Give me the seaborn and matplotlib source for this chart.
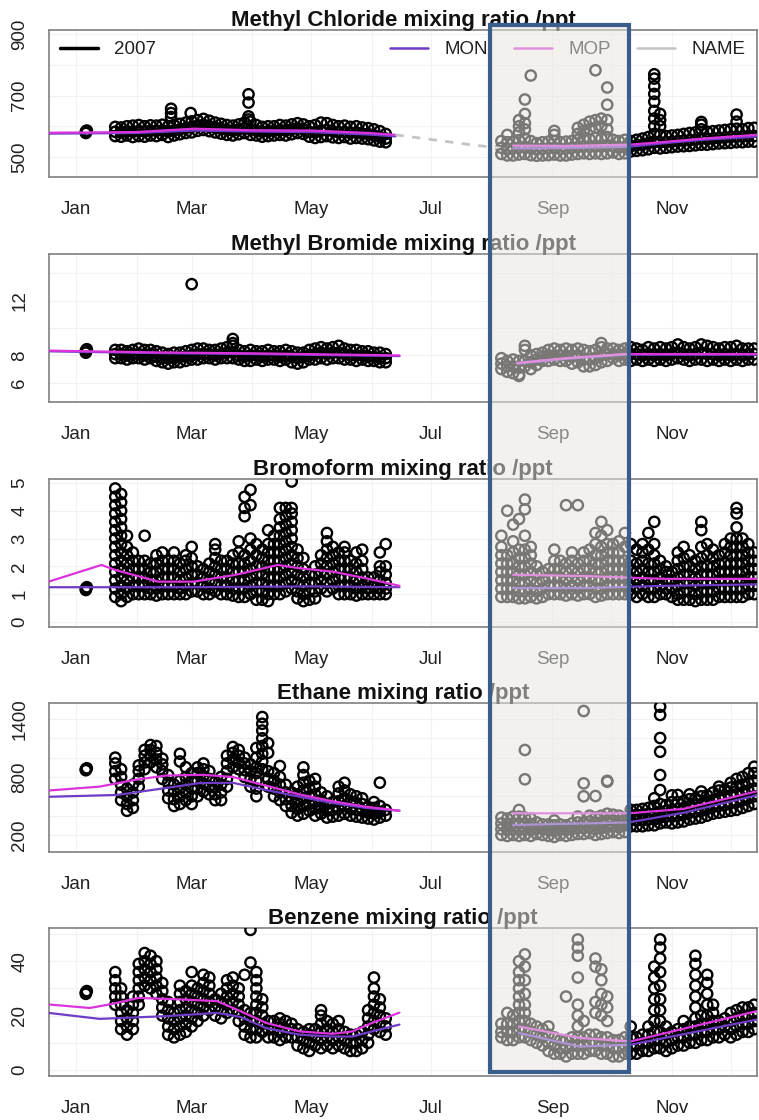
import matplotlib
matplotlib.use("Agg")
import numpy as np
import pandas as pd
import matplotlib.pyplot as plt
import matplotlib.dates as mdates
import matplotlib.transforms as mtransforms
from matplotlib.patches import Rectangle
from matplotlib.lines import Line2D
import seaborn as sns

YEAR0 = pd.Timestamp("2007-01-01")

# Start days (day of year, 0 = 1 Jan) of the 3-day measurement windows
win_spring = list(range(20, 159, 3))    # 21 Jan - 8 Jun
win_autumn = list(range(217, 347, 3))   # 6 Aug - 13 Dec

# ---------------- Methyl chloride (ppt) ----------------
ch3cl_spring = [
    [568, 582, 598], [566, 580, 596], [570, 584, 600], [565, 582, 602], [568, 585, 604],
    [566, 583, 600], [570, 586, 603], [568, 585, 602], [572, 587, 605], [565, 583, 600],
    [570, 586, 604], [574, 590, 608], [578, 594, 612], [580, 598, 616], [585, 602, 620],
    [588, 605, 624], [584, 600, 618], [580, 596, 612], [576, 592, 608], [572, 588, 604],
    [570, 586, 602], [574, 590, 606], [578, 594, 612], [572, 590, 615], [570, 586, 604],
    [566, 582, 598], [568, 584, 600], [570, 585, 600], [572, 588, 604], [570, 586, 602],
    [574, 590, 606], [578, 594, 610], [575, 590, 606], [566, 582, 600], [562, 580, 604],
    [565, 585, 612], [568, 588, 610], [564, 584, 604], [562, 580, 600], [565, 582, 602],
    [560, 578, 598], [562, 580, 600], [560, 576, 596], [558, 575, 594], [554, 570, 590],
    [550, 565, 584], [548, 560, 575],
]
ch3cl_autumn = [
    [510, 530, 552], [505, 525, 548, 572], [505, 528, 550], [508, 530, 555, 580, 600, 620],
    [510, 532, 560, 590, 610, 640, 687], [506, 528, 552, 765], [504, 525, 545], [505, 527, 548],
    [506, 528, 550], [508, 530, 552, 572, 585], [505, 526, 548], [505, 527, 550],
    [508, 530, 552], [510, 532, 556, 575, 595], [512, 535, 560, 585, 605], [510, 533, 558, 590, 615],
    [512, 536, 562, 595, 620, 782], [510, 534, 560, 600, 625], [512, 538, 565, 590, 620, 670, 726],
    [515, 535, 556], [510, 530, 552], [512, 533, 556], [518, 535, 552], [520, 538, 556],
    [522, 540, 560], [525, 545, 565], [530, 550, 575, 600, 625, 650, 680, 705, 730, 755, 769],
    [528, 548, 572, 600, 620, 640], [530, 548, 568], [532, 550, 570], [534, 552, 572],
    [535, 553, 575], [536, 555, 578], [538, 556, 580], [540, 560, 590, 605, 614],
    [540, 558, 582], [542, 560, 584], [544, 562, 586], [545, 563, 588], [546, 565, 590],
    [548, 566, 592, 615, 638], [548, 566, 590], [550, 568, 594], [550, 568, 595],
]
ch3cl_extra = [(5, 578), (5, 583), (5.5, 586), (48.5, 657), (48.5, 643), (48.5, 630),
               (58.5, 643), (88, 704), (88, 677), (88, 632), (88, 622)]
ch3cl_mop = ([-14, 30, 60, 90, 120, 150, 163], [579, 581, 592, 587, 586, 578, 572])
ch3cl_mon = ([-14, 30, 60, 90, 120, 150, 163], [576, 578, 586, 583, 581, 573, 567])
ch3cl_mop_aut = ([223, 250, 282, 300, 320, 347], [537, 536, 540, 549, 560, 572])
ch3cl_mon_aut = ([223, 250, 282, 300, 320, 347], [528, 529, 533, 545, 556, 566])
ch3cl_name_gap = ([163, 180, 200, 215], [572, 558, 541, 530])

# ---------------- Methyl bromide (ppt) ----------------
ch3br_spring = [
    [7.8, 8.1, 8.4], [7.8, 8.1, 8.4], [7.7, 8.0, 8.3], [7.8, 8.1, 8.4], [7.8, 8.1, 8.5],
    [7.7, 8.0, 8.4], [7.8, 8.1, 8.4], [7.6, 7.9, 8.3], [7.5, 7.8, 8.2], [7.4, 7.8, 8.1],
    [7.5, 7.8, 8.2], [7.5, 7.9, 8.2], [7.6, 7.9, 8.3], [7.7, 8.0, 8.4], [7.7, 8.1, 8.5],
    [7.8, 8.1, 8.5], [7.8, 8.1, 8.4], [7.7, 8.0, 8.4], [7.8, 8.1, 8.5], [7.8, 8.2, 8.6],
    [7.8, 8.2, 8.7, 8.9, 9.2], [7.7, 8.0, 8.4], [7.6, 7.9, 8.3], [7.6, 8.0, 8.4], [7.7, 8.0, 8.3],
    [7.6, 7.9, 8.3], [7.7, 8.0, 8.4], [7.7, 8.0, 8.3], [7.6, 7.9, 8.3], [7.7, 8.0, 8.4],
    [7.5, 7.9, 8.3], [7.4, 7.8, 8.2], [7.5, 7.9, 8.2], [7.7, 8.0, 8.4], [7.7, 8.1, 8.5],
    [7.8, 8.2, 8.6], [7.7, 8.1, 8.5], [7.8, 8.2, 8.6], [7.8, 8.2, 8.7], [7.7, 8.1, 8.5],
    [7.7, 8.0, 8.4], [7.6, 8.0, 8.4], [7.7, 8.0, 8.3], [7.6, 7.9, 8.3], [7.6, 7.9, 8.2],
    [7.5, 7.8, 8.2], [7.5, 7.8, 8.1],
]
ch3br_autumn = [
    [7.0, 7.4, 7.8], [6.8, 7.2, 7.6], [6.7, 7.2, 7.7], [6.5, 6.6, 7.1, 7.6], [7.2, 7.6, 8.4, 8.7],
    [7.0, 7.5, 8.0], [7.3, 7.7, 8.1], [7.6, 7.9, 8.2], [7.6, 8.0, 8.4], [7.7, 8.0, 8.5],
    [7.6, 8.0, 8.4], [7.6, 8.0, 8.5], [7.4, 7.9, 8.4], [7.5, 8.0, 8.5], [7.2, 7.7, 8.4],
    [7.2, 7.7, 8.3], [7.3, 7.8, 8.4], [7.5, 8.0, 8.6, 8.9], [7.6, 8.1, 8.5], [7.8, 8.1, 8.5],
    [7.6, 8.0, 8.4], [7.7, 8.1, 8.5], [7.6, 8.1, 8.6], [7.7, 8.1, 8.5], [7.6, 8.0, 8.4],
    [7.7, 8.1, 8.6], [7.6, 8.0, 8.5], [7.7, 8.1, 8.6], [7.6, 8.0, 8.5], [7.7, 8.1, 8.6],
    [7.8, 8.2, 8.8], [7.7, 8.1, 8.6], [7.6, 8.0, 8.5], [7.7, 8.1, 8.6], [7.7, 8.2, 8.8],
    [7.6, 8.1, 8.7], [7.7, 8.1, 8.6], [7.6, 8.0, 8.5], [7.7, 8.1, 8.6], [7.6, 8.0, 8.6],
    [7.7, 8.1, 8.7], [7.6, 8.0, 8.5], [7.7, 8.1, 8.5], [7.7, 8.1, 8.5],
]
ch3br_extra = [(5, 8.2), (5, 8.35), (5.5, 8.45), (59, 13.2)]
ch3br_mop = ([-14, 40, 90, 140, 165], [8.35, 8.22, 8.15, 8.05, 8.0])
ch3br_mon = ([-14, 40, 90, 140, 165], [8.3, 8.17, 8.1, 8.0, 7.95])
ch3br_mop_aut = ([225, 250, 280, 347], [7.45, 7.8, 8.1, 8.1])
ch3br_mon_aut = ([225, 250, 280, 347], [7.4, 7.75, 8.05, 8.05])

# ---------------- Bromoform (ppt) ----------------
chbr3_spring = [
    [0.9, 1.2, 1.5, 1.8, 2.1, 2.4, 2.7, 3.0, 3.3, 3.6, 3.9, 4.2, 4.5, 4.8],
    [0.75, 1.0, 1.3, 1.6, 1.9, 2.2, 2.5, 2.8, 3.1, 3.4, 3.7, 4.0, 4.3, 4.6],
    [0.9, 1.2, 1.5, 1.8, 2.1, 2.4, 2.7, 3.1], [1.0, 1.3, 1.6, 1.9, 2.2, 2.5],
    [1.0, 1.3, 1.6, 1.9, 2.2], [1.0, 1.3, 1.6, 1.9, 2.2, 3.1], [1.0, 1.2, 1.5, 1.8, 2.1],
    [0.95, 1.2, 1.5, 1.8, 2.1, 2.4], [1.0, 1.3, 1.6, 1.9, 2.2, 2.5], [1.0, 1.3, 1.6, 1.9, 2.2],
    [1.0, 1.3, 1.6, 1.9, 2.2, 2.5], [1.0, 1.2, 1.5, 1.8, 2.1], [1.0, 1.3, 1.6, 1.9, 2.2, 2.4],
    [1.1, 1.4, 1.7, 2.0, 2.3, 2.7], [1.1, 1.4, 1.7, 2.0], [1.0, 1.3, 1.6, 1.9],
    [1.0, 1.2, 1.5, 1.8, 2.1], [1.1, 1.4, 1.7, 2.0, 2.3, 2.6, 2.8], [1.0, 1.3, 1.6, 1.9, 2.2],
    [1.0, 1.3, 1.6, 1.9, 2.2], [0.95, 1.2, 1.5, 1.8, 2.1, 2.4], [0.9, 1.2, 1.5, 1.8, 2.1, 2.5, 2.9],
    [0.9, 1.2, 1.5, 1.8, 2.1, 2.4, 3.8, 4.1, 4.5], [1.0, 1.3, 1.6, 1.9, 2.2, 2.6, 3.0, 4.2, 4.75],
    [0.8, 1.1, 1.4, 1.7, 2.0, 2.4, 2.8], [0.8, 1.1, 1.4, 1.7, 2.0, 2.3, 2.6],
    [0.75, 1.0, 1.3, 1.6, 1.9, 2.2, 2.5, 2.8, 3.3], [1.0, 1.3, 1.6, 1.9, 2.2, 2.5, 2.8, 3.1],
    [1.0, 1.3, 1.6, 1.9, 2.2, 2.5, 2.8, 3.1, 3.4, 3.7, 4.1],
    [1.1, 1.4, 1.7, 2.0, 2.3, 2.6, 2.9, 3.2, 3.5, 3.8, 4.1],
    [1.2, 1.5, 1.8, 2.1, 2.4, 2.7, 3.0, 3.3, 3.6, 3.9, 4.1, 5.05],
    [0.85, 1.1, 1.4, 1.7, 2.0, 2.3, 2.6], [0.75, 1.0, 1.3, 1.6, 1.9, 2.3], [0.8, 1.1, 1.4, 1.7],
    [0.85, 1.1, 1.4, 1.7, 2.0], [1.2, 1.5, 1.8, 2.1, 2.4], [1.1, 1.4, 1.7, 2.0, 2.3, 2.6, 2.9, 3.2],
    [1.2, 1.5, 1.8, 2.1, 2.4, 2.7], [1.0, 1.3, 1.6, 1.9, 2.2, 2.5], [1.0, 1.3, 1.6, 1.9, 2.2, 2.5, 2.7],
    [1.0, 1.3, 1.6, 1.9, 2.2], [0.95, 1.2, 1.5, 1.8, 2.1, 2.5], [1.0, 1.3, 1.6, 1.9, 2.2, 2.6],
    [1.0, 1.2, 1.4, 1.6], [1.0, 1.3, 1.6], [1.0, 1.2, 1.5, 1.8, 2.0, 2.5], [1.0, 1.2, 1.4, 1.7, 2.0, 2.8],
]
chbr3_autumn = [
    [0.9, 1.2, 1.5, 1.8, 2.1, 2.4, 2.7, 3.1], [0.9, 1.2, 1.5, 1.8, 2.1, 2.4, 4.0],
    [0.9, 1.2, 1.5, 1.8, 2.1, 2.5, 2.9, 3.5], [0.85, 1.1, 1.4, 1.7, 2.0, 2.3, 2.6, 3.7],
    [0.85, 1.1, 1.4, 1.7, 2.0, 2.3, 2.6, 3.1, 4.05, 4.4], [0.9, 1.2, 1.5, 1.8, 2.1, 2.4, 2.7],
    [0.85, 1.1, 1.4, 1.7, 2.0], [0.9, 1.2, 1.5, 1.8], [1.0, 1.3, 1.6, 1.9],
    [1.0, 1.3, 1.6, 1.9, 2.2, 2.6], [1.0, 1.3, 1.6, 1.9, 2.2], [0.95, 1.2, 1.5, 1.8, 2.1, 4.2],
    [1.0, 1.3, 1.6, 1.9, 2.2, 2.5], [0.95, 1.2, 1.5, 1.8, 2.1, 4.2], [1.0, 1.3, 1.6, 1.9, 2.2, 2.5],
    [1.0, 1.3, 1.6, 1.9, 2.2, 2.6], [0.9, 1.2, 1.5, 1.8, 2.1, 2.4, 2.8, 3.2],
    [0.95, 1.2, 1.5, 1.8, 2.1, 2.4, 2.7, 3.1, 3.6], [1.0, 1.3, 1.6, 1.9, 2.2, 2.5, 2.8, 3.3],
    [1.0, 1.3, 1.6, 1.9, 2.2, 2.5, 2.8], [1.0, 1.3, 1.6, 1.9, 2.2, 2.5, 2.9],
    [1.0, 1.3, 1.6, 1.9, 2.2, 2.7, 3.2], [1.0, 1.3, 1.6, 1.9, 2.2, 2.8], [0.9, 1.2, 1.5, 1.8, 2.1, 2.6],
    [1.0, 1.3, 1.6, 1.9, 2.2, 2.5, 2.8], [0.9, 1.2, 1.5, 1.8, 2.1, 2.6, 3.2],
    [0.9, 1.2, 1.5, 1.8, 2.1, 2.4, 2.8, 3.6], [1.0, 1.3, 1.6, 1.9, 2.2], [1.0, 1.2, 1.5, 1.8, 2.0],
    [0.9, 1.2, 1.5, 1.8], [0.8, 1.0, 1.3, 1.6, 1.9, 2.2, 2.5], [0.8, 1.1, 1.4, 1.7, 2.0, 2.3, 2.7],
    [0.8, 1.1, 1.4, 1.7, 2.0, 2.4], [0.75, 1.0, 1.3, 1.6, 1.9, 2.2],
    [0.8, 1.1, 1.4, 1.7, 2.0, 2.3, 2.7, 3.3, 3.6], [0.8, 1.1, 1.4, 1.7, 2.0, 2.4, 2.8],
    [0.8, 1.1, 1.4, 1.7, 2.0, 2.3, 2.6], [0.9, 1.2, 1.5, 1.8, 2.1, 2.4],
    [0.9, 1.2, 1.5, 1.8, 2.1, 2.5, 2.8], [0.9, 1.2, 1.5, 1.8, 2.1, 2.4, 2.7, 3.0],
    [0.9, 1.2, 1.5, 1.8, 2.1, 2.4, 2.7, 3.0, 3.4, 3.9, 4.1], [0.9, 1.2, 1.5, 1.8, 2.1, 2.4, 2.7, 3.0],
    [1.0, 1.3, 1.6, 1.9, 2.2, 2.5, 2.8], [1.0, 1.3, 1.6, 1.9, 2.2, 2.5],
]
chbr3_extra = [(5, 1.15), (5, 1.2), (5.5, 1.25)]
chbr3_mop = ([-14, 13, 20, 42, 60, 81, 103, 114, 131, 148, 165],
             [1.45, 2.05, 1.87, 1.45, 1.45, 1.69, 2.05, 1.93, 1.81, 1.57, 1.3])
chbr3_mon = ([-14, 60, 120, 165], [1.25, 1.25, 1.28, 1.25])
chbr3_mop_aut = ([223, 260, 300, 347], [1.7, 1.65, 1.55, 1.55])
chbr3_mon_aut = ([223, 260, 300, 347], [1.22, 1.22, 1.3, 1.35])

# ---------------- Ethane (ppt) ----------------
c2h6_spring = [
    [780, 860, 940, 1000], [560, 640, 720, 800, 880], [450, 520, 600, 680], [480, 560, 640, 720],
    [700, 780, 860, 920], [880, 950, 1020, 1080], [950, 1020, 1080, 1130], [900, 980, 1050, 1120],
    [780, 860, 930, 990], [580, 660, 740, 820], [500, 570, 650, 720],
    [520, 600, 680, 760, 960, 1040], [560, 640, 720, 800, 900], [520, 600, 680, 760, 840],
    [600, 680, 760, 840, 900], [650, 730, 810, 880, 940], [620, 700, 780, 860], [560, 620, 690, 750],
    [560, 640, 720, 800], [700, 780, 860, 940, 1020], [900, 980, 1050, 1110], [880, 950, 1020, 1080],
    [800, 870, 940, 1000], [700, 780, 860, 930], [600, 680, 760, 840, 900, 1000, 1100],
    [880, 960, 1040, 1120, 1200, 1280, 1350, 1420], [700, 780, 860, 1050, 1150],
    [600, 680, 760, 840], [560, 640, 720, 800, 913], [500, 570, 640, 720], [430, 500, 570, 640],
    [400, 470, 540, 620, 700], [420, 500, 580, 660, 740, 820, 900], [450, 520, 600, 680, 760],
    [400, 470, 540, 620, 700, 780], [420, 490, 560, 640], [380, 450, 520, 600], [390, 460, 540],
    [400, 470, 550, 630, 700], [420, 500, 580, 660, 740], [400, 470, 550, 620], [390, 460, 530, 600],
    [380, 450, 520, 580], [370, 430, 490], [360, 420, 480, 540], [380, 440, 500, 741], [400, 460],
]
c2h6_autumn = [
    [200, 260, 320, 380], [190, 250, 310, 370], [200, 260, 320, 390], [190, 250, 320, 390, 459],
    [200, 260, 320, 380, 776, 1079], [190, 250, 310, 370], [210, 270, 330], [200, 260, 310],
    [190, 250, 310], [180, 240, 300, 350], [200, 260, 310], [190, 250, 300], [200, 260, 320],
    [210, 270, 330, 390], [210, 270, 330, 600, 734, 1482], [220, 280, 340, 400],
    [200, 260, 320, 380, 603], [210, 270, 330, 400], [220, 280, 350, 420, 751, 760],
    [230, 290, 350, 410], [220, 280, 340, 400], [230, 300, 360], [290, 350, 410, 460],
    [290, 350, 410, 460], [290, 350, 410, 470], [300, 360, 420, 480], [300, 360, 420, 500, 580],
    [320, 380, 440, 520, 665, 820, 1061, 1203, 1441, 1527], [330, 390, 450, 510],
    [320, 390, 460, 540, 610], [330, 400, 470, 540, 614], [340, 410, 480, 550],
    [360, 430, 500, 570, 620], [370, 440, 510, 580], [380, 450, 520, 600, 650], [400, 470, 540, 610],
    [420, 490, 560, 640], [430, 500, 580, 660, 700], [440, 510, 590, 670], [450, 530, 610, 690, 740],
    [460, 540, 620, 700, 780], [480, 560, 640, 720, 800], [500, 580, 660, 740, 840],
    [520, 600, 680, 760, 840, 906],
]
c2h6_extra = [(5, 870), (5, 880), (5.5, 890)]
c2h6_mop = ([-14, 12, 30, 46, 65, 80, 97, 114, 131, 148, 165],
            [660, 700, 770, 815, 822, 800, 710, 620, 548, 492, 451])
c2h6_mon = ([-14, 21, 46, 63, 80, 97, 114, 131, 148, 165],
            [595, 614, 686, 737, 740, 665, 596, 530, 480, 451])
c2h6_mop_aut = ([223, 282, 310, 347], [424, 424, 470, 650])
c2h6_mon_aut = ([223, 282, 310, 347], [303, 330, 430, 610])

# ---------------- Benzene (ppt) ----------------
c6h6_spring = [
    [24, 27, 30, 33, 36], [15, 18, 21, 24, 27, 30], [13, 16, 19, 22], [15, 18, 21, 24, 27],
    [24, 27, 30, 33, 36, 39], [31, 34, 37, 40, 43], [30, 33, 36, 39, 42], [28, 31, 34, 37, 40],
    [20, 23, 26, 29, 32], [13, 16, 19, 22, 25], [12, 15, 18, 21], [13, 16, 19, 22, 25, 28, 31],
    [14, 17, 20, 23, 26, 29], [16, 19, 22, 25, 28, 31, 36], [18, 21, 24, 27, 30],
    [20, 23, 26, 29, 32, 35], [22, 25, 28, 31, 34], [20, 23, 26], [19, 22, 25, 28],
    [21, 24, 27, 30, 33], [22, 25, 28, 31, 34], [18, 21, 24, 27, 30], [13, 16, 19, 22, 35],
    [12, 15, 18, 21, 39.5, 51.5], [12, 15, 18, 21, 24, 27, 30, 33, 36], [14, 17, 20, 23, 26],
    [12, 15, 18], [12, 15, 18], [11, 14, 17, 19], [12, 15, 18], [12, 15, 17], [9, 12, 15],
    [8, 11, 14], [7, 10, 13, 15], [9, 12, 15], [8, 11, 14, 17, 20, 22], [9, 12, 15, 18],
    [8, 11, 14, 17], [9, 12, 15, 18], [8, 11, 14], [7, 10, 13], [7, 10, 13], [8, 11, 14],
    [10, 13, 16, 19, 22], [15, 18, 21, 24, 27, 30, 34], [14, 17, 20, 23, 26], [13, 16, 19],
]
c6h6_autumn = [
    [12, 14, 17], [11, 14, 17, 21], [11, 14, 17, 20], [12, 15, 18, 21, 24, 27, 30, 33, 36, 40],
    [12, 15, 18, 21, 24, 28, 33, 38, 42.5], [11, 14, 17], [10, 13, 16], [9, 12, 15],
    [7, 10, 13, 16], [6, 9, 12], [6, 8, 11], [5, 8, 11, 27], [6, 9, 12],
    [6, 9, 12, 16, 20, 24, 34, 42, 45, 48], [6, 9, 12, 18], [7, 10, 13],
    [7, 10, 13, 21, 25, 38, 41], [6, 9, 12, 20, 24, 28, 33, 37], [6, 9, 12, 18, 23, 27],
    [5, 8, 11], [5, 8, 11], [6, 9, 12], [6, 9, 12, 16], [6, 9, 12], [7, 10, 13], [7, 10, 13, 16],
    [8, 11, 14, 18, 22, 26, 30, 34, 38], [8, 11, 14, 18, 22, 26, 31, 36, 41, 45, 48],
    [7, 10, 13, 16], [8, 11, 14], [9, 12, 15], [9, 12, 15, 18], [10, 13, 16],
    [10, 13, 16, 19, 23, 27, 31, 35, 39, 42], [11, 14, 17, 20], [11, 14, 17, 20, 24, 28, 32, 35],
    [12, 15, 18, 21, 24], [12, 15, 18], [13, 16, 19], [12, 15, 18, 21], [13, 16, 19, 22],
    [14, 17, 20, 23], [14, 17, 20, 23], [15, 18, 21, 24],
]
c6h6_extra = [(5, 28), (5, 28.5), (5.5, 29)]
c6h6_mop = ([-14, 7, 17, 32, 55, 72, 84, 97, 114, 131, 141, 151, 165],
            [24.1, 22.8, 24.1, 26.5, 25.9, 25.3, 21.6, 17.3, 14.2, 13.3, 14.2, 17.3, 21.1])
c6h6_mon = ([-14, 12, 46, 72, 84, 97, 114, 131, 141, 151, 165],
            [21.0, 18.8, 19.8, 21.0, 19.5, 15.4, 13.0, 12.3, 12.3, 14.2, 16.7])
c6h6_mop_aut = ([226, 257, 283, 347], [16.0, 11.8, 10.5, 21.6])
c6h6_mon_aut = ([226, 257, 283, 347], [13.6, 8.6, 9.3, 18.5])

titles = ["Methyl Chloride mixing ratio /ppt", "Methyl Bromide mixing ratio /ppt",
          "Bromoform mixing ratio /ppt", "Ethane mixing ratio /ppt", "Benzene mixing ratio /ppt"]
y_limits = [(435, 913), (4.6, 15.4), (-0.18, 5.14), (24, 1565), (-2.2, 52.2)]
y_ticks = [[500, 600, 700, 800, 900], [6, 8, 10, 12, 14], [0, 1, 2, 3, 4, 5],
           [200, 400, 600, 800, 1000, 1200, 1400], [0, 10, 20, 30, 40, 50]]
y_ticklabels = [["500", "", "700", "", "900"], ["6", "8", "", "12", ""],
                ["0", "1", "2", "3", "4", "5"], ["200", "", "", "800", "", "", "1400"],
                ["0", "", "20", "", "40", ""]]

MON_COLOR = "#6f3cc6"
MOP_COLOR = "#dc34dc"
NAME_COLOR = "#c4c4c4"
LABEL_SIZE = 13.5


def to_date(days):
    return YEAR0 + pd.to_timedelta(np.asarray(days, dtype=float), unit="D")


def samples_frame(spring, autumn, extra):
    rows = []
    for d, vals in zip(win_spring, spring):
        rows += [(d, v) for v in vals]
    for d, vals in zip(win_autumn, autumn):
        rows += [(d, v) for v in vals]
    rows += list(extra)
    df = pd.DataFrame(rows, columns=["day", "value"])
    df["date"] = to_date(df["day"])
    return df


def model_frame(pieces):
    rows = []
    for model, seg, (days, vals) in pieces:
        rows += [(model, seg, d, v) for d, v in zip(days, vals)]
    df = pd.DataFrame(rows, columns=["model", "seg", "day", "value"])
    df["date"] = to_date(df["day"])
    return df


species = [
    (ch3cl_spring, ch3cl_autumn, ch3cl_extra, ch3cl_mop, ch3cl_mon, ch3cl_mop_aut, ch3cl_mon_aut),
    (ch3br_spring, ch3br_autumn, ch3br_extra, ch3br_mop, ch3br_mon, ch3br_mop_aut, ch3br_mon_aut),
    (chbr3_spring, chbr3_autumn, chbr3_extra, chbr3_mop, chbr3_mon, chbr3_mop_aut, chbr3_mon_aut),
    (c2h6_spring, c2h6_autumn, c2h6_extra, c2h6_mop, c2h6_mon, c2h6_mop_aut, c2h6_mon_aut),
    (c6h6_spring, c6h6_autumn, c6h6_extra, c6h6_mop, c6h6_mon, c6h6_mop_aut, c6h6_mon_aut),
]

sns.set_theme(style="white")
plt.rcParams["font.family"] = ["Liberation Sans", "DejaVu Sans"]
plt.rcParams["font.size"] = LABEL_SIZE

W, H = 759, 1120
fig = plt.figure(figsize=(W / 100, H / 100), dpi=100)
fig.patch.set_facecolor("white")

axes_px = [(30, 177), (254, 402), (479, 627), (703, 852), (928, 1076)]
x_left, x_right = 49, 757
xlim = (pd.Timestamp("2006-12-18 05:00"), pd.Timestamp("2007-12-14 10:00"))

axes = []
for i, (top, bottom) in enumerate(axes_px):
    ax = fig.add_axes([x_left / W, 1 - bottom / H, (x_right - x_left) / W, (bottom - top) / H])
    axes.append(ax)
    spring, autumn, extra, mop, mon, mop_aut, mon_aut = species[i]

    pts = samples_frame(spring, autumn, extra)
    sns.scatterplot(data=pts, x="date", y="value", ax=ax, marker="o", s=55,
                    facecolor="none", edgecolor="black", linewidth=1.7, legend=False, zorder=3)
    for coll in ax.collections:
        coll.set_facecolor("none")
        coll.set_edgecolor("black")

    lines = model_frame([("MON", 0, mon), ("MOP", 0, mop), ("MON", 1, mon_aut), ("MOP", 1, mop_aut)])
    sns.lineplot(data=lines, x="date", y="value", hue="model", units="seg", estimator=None,
                 palette={"MON": MON_COLOR, "MOP": MOP_COLOR}, hue_order=["MON", "MOP"],
                 linewidth=1.6, legend=False, ax=ax, zorder=4, sort=False)
    if i == 0:
        gap = model_frame([("NAME", 0, ch3cl_name_gap)])
        sns.lineplot(data=gap, x="date", y="value", color=NAME_COLOR, linewidth=2.0,
                     linestyle=(0, (3, 3)), legend=False, ax=ax, zorder=4, estimator=None)

    ax.set_xlim(*xlim)
    ax.set_ylim(*y_limits[i])
    ax.set_yticks(y_ticks[i])
    ax.set_yticklabels(y_ticklabels[i], rotation=90, va="center")
    ax.xaxis.set_major_locator(mdates.MonthLocator(bymonth=[1, 3, 5, 7, 9, 11]))
    ax.xaxis.set_major_formatter(mdates.DateFormatter("%b"))
    ax.xaxis.set_minor_locator(mdates.MonthLocator())
    ax.set_xlabel("")
    ax.set_ylabel("")
    ax.grid(True, which="both", axis="x", color="#f2f2f2", linewidth=0.8)
    ax.grid(True, which="major", axis="y", color="#f2f2f2", linewidth=0.8)
    ax.set_axisbelow(True)
    ax.tick_params(axis="both", which="major", direction="out", length=7, width=1.0,
                   color="#808080", labelcolor="#222222", labelsize=LABEL_SIZE)
    ax.tick_params(axis="x", which="major", pad=10)
    ax.tick_params(axis="y", which="major", pad=8)
    ax.tick_params(axis="x", which="minor", length=0)
    for sp in ax.spines.values():
        sp.set_color("#808080")
        sp.set_linewidth(1.2)
    ax.set_title(titles[i], fontsize=16, fontweight="bold", color="#111111", pad=3)

# legends in the top panel
ax0 = axes[0]
leg1 = ax0.legend(handles=[Line2D([], [], color="black", lw=2.5)], labels=["2007"],
                  loc="upper left", frameon=False, handlelength=2.0, handletextpad=0.85,
                  borderaxespad=0.2, fontsize=LABEL_SIZE)
for t in leg1.get_texts():
    t.set_color("#222222")
ax0.add_artist(leg1)
leg2 = ax0.legend(handles=[Line2D([], [], color=MON_COLOR, lw=1.8),
                           Line2D([], [], color=MOP_COLOR, lw=1.8),
                           Line2D([], [], color=NAME_COLOR, lw=1.8)],
                  labels=["MON", "MOP", "NAME"], loc="upper right", ncol=3, frameon=False,
                  handlelength=2.0, handletextpad=0.9, columnspacing=1.4,
                  borderaxespad=0.2, fontsize=LABEL_SIZE)
for t in leg2.get_texts():
    t.set_color("#222222")

# highlighted period: translucent veil plus outline, spanning all panels
trans = mtransforms.blended_transform_factory(ax0.transData, fig.transFigure)
hl_start = mdates.date2num(pd.Timestamp("2007-07-31 05:00"))
hl_end = mdates.date2num(pd.Timestamp("2007-10-10 00:00"))
y_lo, y_hi = 1 - 1072 / H, 1 - 25 / H
fig.add_artist(Rectangle((hl_start, y_lo), hl_end - hl_start, y_hi - y_lo, transform=trans,
                         facecolor=(0.905, 0.9, 0.875), alpha=0.52, edgecolor="none", zorder=20))
fig.add_artist(Rectangle((hl_start, y_lo), hl_end - hl_start, y_hi - y_lo, transform=trans,
                         fill=False, edgecolor="#3b5d8c", linewidth=3.0, zorder=21))

fig.savefig("out.png", dpi=100, facecolor="white")
